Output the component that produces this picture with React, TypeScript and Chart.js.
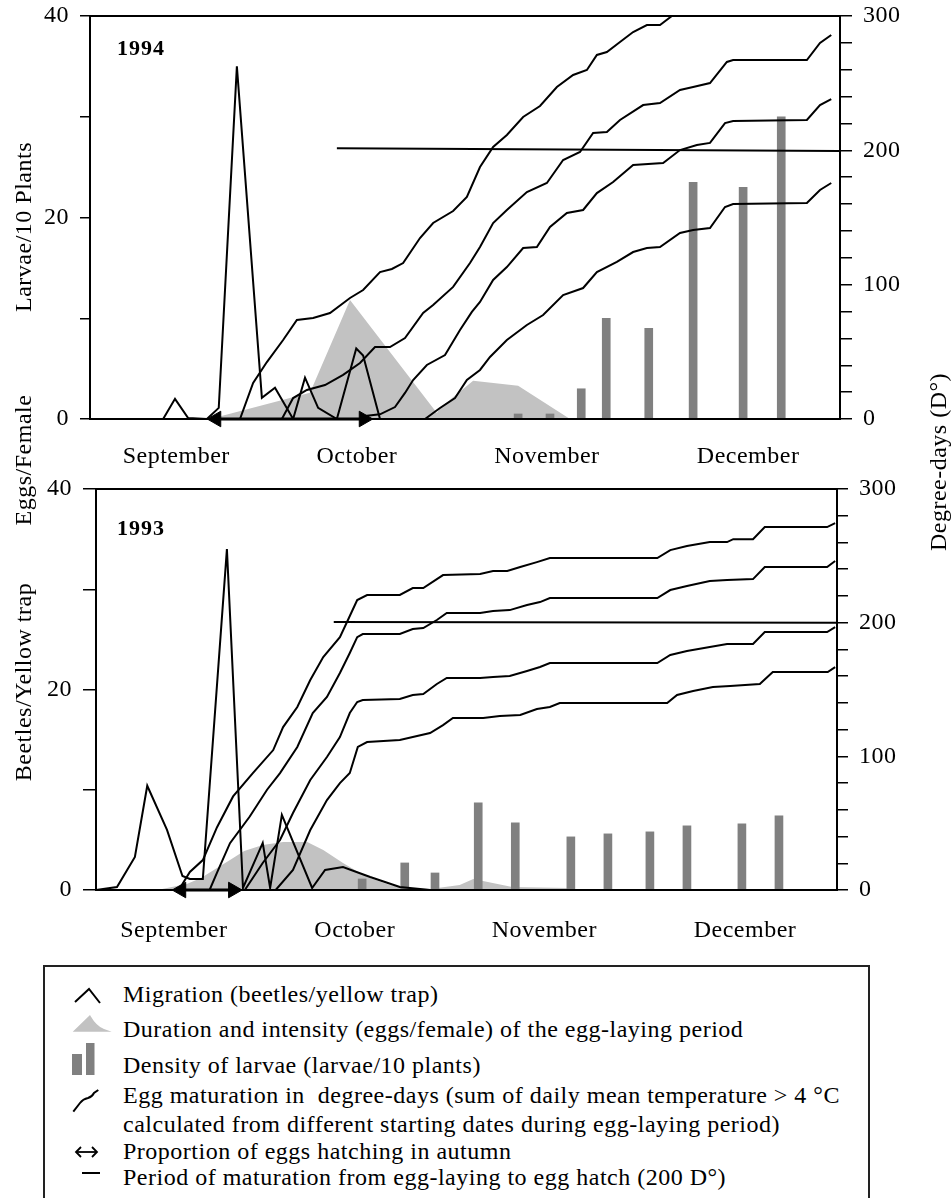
import React, { useEffect, useRef } from 'react';
import { Chart, registerables } from 'chart.js';

Chart.register(...registerables);

type Pt = [number, number];

const SERIF = "'Liberation Serif', 'Tinos', 'DejaVu Serif', 'Noto Serif', serif";

// x values are days counted from 1 September
const MONTHS = ['September', 'October', 'November', 'December'];
const MONTH_DAYS_1994 = [13.8, 42.7, 73.1, 105.3];
const MONTH_DAYS_1993 = [12.6, 41.9, 72.6, 105.1];

// ---------- 1994 (upper panel) ----------
const migration1994: Pt[] = [
  [0, 0], [11.7, 0], [13.6, 2], [15.7, 0.1], [18.7, 0], [20.6, 1.1], [23.5, 35], [27.5, 2.1],
  [29.6, 3.1], [32.5, 0], [34.4, 4.1], [36.5, 1.1], [39.5, 0], [42.6, 7], [43.7, 6.3], [46.4, 0],
];
const eggLaying1994: Pt[] = [
  [19.2, 0], [35.2, 2.6], [41.6, 11.8], [55.5, 0.6], [56.0, 1.1], [61.3, 3.8], [68.5, 3.3], [76.8, 0],
];
const larvaeDays1994 = [68.5, 73.6, 78.6, 82.6, 89.4, 96.5, 104.5, 110.6];
const larvae1994 = [0.5, 0.5, 3, 10, 9, 23.5, 23, 30];
const maturation1994A: Pt[] = [
  [24.0, 0], [26.1, 26.8], [28.3, 42.4], [30.9, 58.8], [33.1, 73.7], [35.7, 75.2], [38.4, 78.9],
  [41.6, 90.1], [43.7, 96.0], [46.4, 109.4], [48.3, 111.7], [50.1, 116.1], [52.8, 134.7], [54.9, 145.9],
  [58.1, 154.8], [60.3, 165.3], [62.4, 187.6], [64.5, 202.5], [66.7, 211.4], [69.3, 224.8], [72.0, 233.0],
  [74.7, 247.1], [77.3, 256.1], [79.5, 259.8], [81.1, 271.0], [82.7, 273.2], [84.8, 280.6], [86.9, 288.1],
  [89.1, 293.3], [91.2, 293.3], [93.1, 300],
];
const maturation1994B: Pt[] = [
  [30.7, 0], [32.5, 15.6], [34.7, 21.6], [37.6, 25.3], [40.5, 32.8], [43.2, 41.7], [45.6, 53.6],
  [48.0, 53.6], [50.4, 60.3], [53.3, 78.9], [54.9, 84.9], [58.1, 98.3], [60.8, 116.1], [62.4, 128.0],
  [64.5, 145.9], [66.7, 155.6], [69.9, 169.0], [73.1, 175.7], [75.7, 192.8], [78.4, 198.8], [80.5, 212.9],
  [82.7, 213.6], [84.8, 222.6], [88.5, 233.7], [91.2, 235.2], [94.4, 244.9], [96.5, 247.1], [99.2, 250.1],
  [101.9, 265.8], [102.9, 267.2], [114.7, 267.2], [116.8, 279.9], [118.6, 285.9],
];
const maturation1994C: Pt[] = [
  [43.6, 2], [46.4, 3.5], [48.8, 8.9], [50.4, 19.4], [51.7, 29.0], [53.9, 40.2], [56.8, 47.6],
  [59.2, 66.3], [61.1, 79.7], [62.4, 87.1], [64.5, 103.5], [66.7, 113.1], [69.3, 127.3], [71.5, 128.0],
  [73.6, 142.9], [76.3, 153.4], [78.9, 155.6], [81.1, 168.2], [83.7, 176.4], [86.9, 189.1], [91.7, 190.6],
  [94.4, 200.2], [97.1, 204.0], [99.2, 205.5], [101.6, 220.3], [102.9, 221.8], [114.7, 222.6],
  [116.8, 233.7], [118.6, 238.2],
];
const maturation1994D: Pt[] = [
  [53.6, 0], [56.0, 8.2], [58.4, 15.6], [60.3, 29.0], [62.4, 36.5], [64.0, 46.2], [66.7, 58.8],
  [69.9, 70.0], [72.5, 77.4], [75.7, 92.3], [78.9, 97.5], [81.1, 109.4], [84.3, 116.9], [86.9, 124.3],
  [89.1, 127.3], [91.2, 128.0], [94.4, 138.5], [96.5, 140.7], [99.2, 142.2], [101.6, 157.8],
  [102.9, 160.0], [114.7, 160.8], [116.8, 170.5], [118.6, 175.7],
];
const hatchLine1994: Pt[] = [[39.5, 201.5], [120, 199.5]];
const autumnHatch1994 = [20.2, 43.8];

// ---------- 1993 (lower panel) ----------
const migration1993: Pt[] = [
  [0, 0], [3.4, 0.3], [6.3, 3.3], [8.3, 10.4], [11.5, 6.0], [14.0, 1.4], [15.2, 1.1], [17.3, 1.1],
  [21.2, 34], [23.8, 0.2], [27.0, 4.7], [28.2, 0.2], [30.1, 7.5], [35.0, 0.2], [37.1, 2.0], [40.0, 2.3],
  [44.4, 1.3], [49.2, 0.3], [54.1, 0],
];
const eggLaying1993: Pt[] = [
  [9.9, 0], [14.7, 0.6], [17.0, 1.2], [19.6, 2.2], [21.7, 3.0], [24.0, 3.9], [27.0, 4.5], [30.3, 4.8],
  [34.2, 4.8], [36.8, 4.0], [40.0, 2.7], [42.2, 1.9], [44.4, 1.2], [47.6, 0.5], [50.0, 0.2], [54.1, 0.1],
  [58.9, 0.5], [61.1, 1.1], [67.4, 0.3], [76.3, 0.2], [76.8, 0],
];
const larvaeDays1993 = [43.1, 50.0, 54.9, 61.9, 67.9, 76.9, 82.9, 89.7, 95.7, 104.6, 110.6];
const larvae1993 = [1.1, 2.7, 1.7, 8.7, 6.7, 5.3, 5.6, 5.8, 6.4, 6.6, 7.4];
const maturation1993A: Pt[] = [
  [13.4, 0], [15.2, 13.5], [17.3, 22.4], [19.6, 47], [22.2, 70], [25.4, 87.5], [28.7, 104.7],
  [30.3, 121.9], [32.6, 136.9], [34.7, 157.1], [36.8, 174.3], [39.5, 189.2], [40.8, 202.0], [42.3, 216.9],
  [43.9, 220.7], [49.2, 220.7], [51.3, 225.9], [53.0, 225.9], [56.2, 235.6], [62.2, 236.4], [64.3, 238.6],
  [66.6, 238.6], [68.7, 241.6], [71.4, 245.3], [73.5, 248.3], [90.9, 248.3], [93.0, 254.3], [95.7, 257.3],
  [99.4, 260.3], [102.2, 260.3], [103.2, 262.5], [106.4, 262.5], [108.3, 271.5], [118.4, 271.5],
  [119.7, 274.5],
];
const maturation1993B: Pt[] = [
  [18.4, 0], [19.6, 13], [21.7, 35], [24.9, 55], [27.7, 75], [29.8, 87.5], [32.6, 107.0], [35.1, 132.4],
  [37.4, 144.4], [39.5, 162.3], [41.1, 177.3], [42.3, 189.2], [43.2, 191.5], [49.2, 191.5], [51.3, 195.2],
  [53.0, 196.0], [55.2, 202.0], [56.8, 207.2], [62.2, 207.2], [64.3, 208.7], [67.0, 209.4], [69.8, 213.2],
  [71.9, 215.4], [73.5, 218.4], [90.9, 218.4], [93.0, 224.4], [95.7, 227.4], [99.4, 231.1], [102.2, 231.9],
  [106.4, 232.6], [108.3, 241.6], [118.4, 241.6], [119.7, 246.1],
];
const maturation1993C: Pt[] = [
  [24.1, 0], [27.0, 20.2], [29.8, 37.4], [31.9, 57.6], [34.7, 82.3], [37.4, 99.5], [39.5, 114.4],
  [41.1, 132.4], [42.3, 140.6], [43.2, 142.1], [49.2, 142.9], [51.3, 145.9], [53.0, 146.6], [55.2, 154.1],
  [56.8, 158.6], [62.2, 158.6], [64.3, 159.3], [67.0, 160.1], [69.8, 163.8], [71.9, 166.8], [73.5, 169.8],
  [90.9, 169.8], [93.0, 175.8], [95.7, 178.8], [99.4, 181.8], [102.2, 184.0], [106.4, 184.0],
  [108.3, 193.0], [118.4, 193.0], [119.7, 196.7],
];
const maturation1993D: Pt[] = [
  [29.1, 0], [31.9, 15.0], [34.7, 44.9], [37.4, 67.3], [39.5, 80.0], [41.1, 87.5], [42.4, 107.0],
  [43.9, 110.7], [49.2, 112.2], [51.3, 114.4], [54.1, 117.4], [56.2, 123.4], [57.8, 128.7], [62.7, 128.7],
  [65.4, 130.2], [68.7, 130.9], [71.4, 135.4], [73.5, 136.9], [75.1, 139.9], [92.5, 139.9], [94.1, 145.9],
  [96.7, 148.9], [99.9, 151.8], [102.7, 152.6], [107.5, 154.1], [109.6, 163.1], [118.5, 163.1],
  [119.7, 166.8],
];
const hatchLine1993: Pt[] = [[38.5, 200.5], [120, 200]];
const autumnHatch1993 = [13.8, 22.2];

const LEGEND_ROWS = [
  'Migration (beetles/yellow trap)',
  'Duration and intensity (eggs/female) of the egg-laying period',
  'Density of larvae (larvae/10 plants)',
  'Egg maturation in \u00a0degree-days (sum of daily mean temperature > 4 \u00b0C',
  'calculated from different starting dates during egg-laying period)',
  'Proportion of eggs hatching in autumn',
  'Period of maturation from egg-laying to egg hatch (200 D\u00b0)',
];

interface PanelSpec {
  monthDays: number[];
  migration: Pt[];
  eggLaying: Pt[];
  larvaeDays: number[];
  larvae: number[];
  maturation: Pt[][];
  hatchLine: Pt[];
  arrow: number[];
  left: number;
  right: number;
  top: number;
  bottom: number;
  leftTick: number;
  rightTick: number;
  xPad: number;
}

const toXY = (pts: Pt[]) => pts.map(([x, y]) => ({ x, y }));

const spacingPlugin = {
  id: 'letterSpacing',
  beforeDraw(chart: any) {
    chart.ctx.letterSpacing = '0.5px';
  },
};

const noPad = (s: any) => {
  s.paddingTop = 0;
  s.paddingBottom = 0;
  s.paddingLeft = 0;
  s.paddingRight = 0;
};

function makeConfig(p: PanelSpec): any {
  const font = { family: SERIF, size: 24 };
  const lineDs = (pts: Pt[], axis: string) => ({
    type: 'line',
    data: toXY(pts),
    yAxisID: axis,
    borderColor: '#000',
    borderWidth: 2,
    pointRadius: 0,
    fill: false,
    tension: 0,
    order: 1,
  });
  const datasets: any[] = [
    {
      type: 'line',
      data: toXY(p.eggLaying),
      yAxisID: 'y',
      borderColor: 'rgba(0,0,0,0)',
      borderWidth: 0,
      backgroundColor: '#c2c2c2',
      fill: 'origin',
      pointRadius: 0,
      tension: 0,
      order: 10,
    },
    {
      type: 'bar',
      data: p.larvaeDays.map((x, i) => ({ x, y: p.larvae[i] })),
      yAxisID: 'y',
      backgroundColor: '#808080',
      barThickness: 8,
      order: 5,
    },
    lineDs(p.migration, 'y'),
    ...p.maturation.map((m) => lineDs(m, 'y2')),
    lineDs(p.hatchLine, 'y2'),
    {
      type: 'line',
      data: p.arrow.map((x) => ({ x, y: 0 })),
      yAxisID: 'y',
      borderColor: '#000',
      borderWidth: 3,
      pointStyle: 'triangle',
      pointRadius: 9,
      pointRotation: [-90, 90],
      pointBackgroundColor: '#000',
      pointBorderColor: '#000',
      pointBorderWidth: 1,
      clip: false,
      order: 0,
    },
  ];
  const W = 951;
  return {
    type: 'line',
    data: { datasets },
    plugins: [spacingPlugin],
    options: {
      animation: false,
      responsive: false,
      devicePixelRatio: 1,
      events: [],
      layout: { padding: 0 },
      plugins: { legend: { display: false }, tooltip: { enabled: false }, title: { display: false } },
      scales: {
        x: {
          type: 'linear',
          position: 'bottom',
          min: 0,
          max: 120,
          offset: false,
          grid: { display: false },
          border: { display: true, color: '#000', width: 2, z: 1 },
          afterBuildTicks: (s: any) => {
            s.ticks = p.monthDays.map((v) => ({ value: v }));
          },
          ticks: {
            callback: (_v: any, i: number) => MONTHS[i],
            font,
            color: '#000',
            padding: p.xPad,
            maxRotation: 0,
            autoSkip: false,
          },
          afterFit: (s: any) => {
            s.height = p.bottom;
            noPad(s);
          },
        },
        x2: {
          type: 'linear',
          position: 'top',
          grid: { display: false },
          ticks: { display: false },
          border: { display: true, color: '#000', width: 2, z: 1 },
          afterFit: (s: any) => {
            s.height = p.top;
            noPad(s);
          },
        },
        y: {
          type: 'linear',
          position: 'left',
          min: 0,
          max: 40,
          ticks: {
            stepSize: 10,
            autoSkip: false,
            callback: (v: number) => (v % 20 === 0 ? String(v) : ''),
            font,
            color: '#000',
            padding: 11,
          },
          grid: { drawOnChartArea: false, drawTicks: true, tickLength: p.leftTick, color: '#000', lineWidth: 1.5 },
          border: { display: true, color: '#000', width: 2, z: 1 },
          afterFit: (s: any) => {
            s.width = p.left;
            noPad(s);
          },
        },
        y2: {
          type: 'linear',
          position: 'right',
          min: 0,
          max: 300,
          ticks: {
            stepSize: 20,
            autoSkip: false,
            callback: (v: number) => (v % 100 === 0 ? String(v) : ''),
            font,
            color: '#000',
            padding: 11,
          },
          grid: { drawOnChartArea: false, drawTicks: true, tickLength: p.rightTick, color: '#000', lineWidth: 1.5 },
          border: { display: true, color: '#000', width: 2, z: 1 },
          afterFit: (s: any) => {
            s.width = W - p.right;
            noPad(s);
          },
        },
      },
    },
  };
}

const PANEL_1994: PanelSpec = {
  monthDays: MONTH_DAYS_1994,
  migration: migration1994,
  eggLaying: eggLaying1994,
  larvaeDays: larvaeDays1994,
  larvae: larvae1994,
  maturation: [maturation1994A, maturation1994B, maturation1994C, maturation1994D],
  hatchLine: hatchLine1994,
  arrow: autumnHatch1994,
  left: 90,
  right: 840,
  top: 16,
  bottom: 51,
  leftTick: 10,
  rightTick: 12,
  xPad: 15,
};

const PANEL_1993: PanelSpec = {
  monthDays: MONTH_DAYS_1993,
  migration: migration1993,
  eggLaying: eggLaying1993,
  larvaeDays: larvaeDays1993,
  larvae: larvae1993,
  maturation: [maturation1993A, maturation1993B, maturation1993C, maturation1993D],
  hatchLine: hatchLine1993,
  arrow: autumnHatch1993,
  left: 96,
  right: 837,
  top: 19,
  bottom: 60,
  leftTick: 13,
  rightTick: 11,
  xPad: 18,
};

function Panel({ spec, top, height }: { spec: PanelSpec; top: number; height: number }) {
  const ref = useRef<HTMLCanvasElement>(null);
  useEffect(() => {
    const chart = new Chart(ref.current as HTMLCanvasElement, makeConfig(spec));
    return () => chart.destroy();
  }, [spec]);
  return (
    <canvas
      ref={ref}
      width={951}
      height={height}
      style={{ position: 'absolute', left: 0, top, width: 951, height, display: 'block' }}
    />
  );
}

function Vert({ cx, cy, text }: { cx: number; cy: number; text: string }) {
  return (
    <div
      style={{
        position: 'absolute',
        left: cx,
        top: cy,
        transform: 'translate(-50%, -50%) rotate(-90deg)',
        whiteSpace: 'nowrap',
        fontSize: 24,
        lineHeight: '24px',
        letterSpacing: '0.5px',
      }}
    >
      {text}
    </div>
  );
}

const LEGEND_TOPS = [981.6, 1017, 1053, 1083, 1112, 1139, 1165];

export default function App() {
  return (
    <div
      style={{
        position: 'absolute',
        left: 0,
        top: 0,
        width: 951,
        height: 1198,
        overflow: 'hidden',
        background: '#fff',
        fontFamily: SERIF,
        color: '#000',
      }}
    >
      <Panel spec={PANEL_1994} top={0} height={470} />
      <Panel spec={PANEL_1993} top={470} height={480} />

      <div style={{ position: 'absolute', left: 117, top: 36.6, fontSize: 22, lineHeight: '22px', fontWeight: 'bold', letterSpacing: '1px' }}>
        1994
      </div>
      <div style={{ position: 'absolute', left: 117, top: 516.6, fontSize: 22, lineHeight: '22px', fontWeight: 'bold', letterSpacing: '1px' }}>
        1993
      </div>

      <Vert cx={23} cy={227} text="Larvae/10 Plants" />
      <Vert cx={23} cy={460} text="Eggs/Female" />
      <Vert cx={23} cy={682} text="Beetles/Yellow trap" />
      <Vert cx={938} cy={462} text="Degree-days (D°)" />

      <div
        style={{
          position: 'absolute',
          left: 43,
          top: 965,
          width: 827,
          height: 240,
          border: '2px solid #222',
          boxSizing: 'border-box',
        }}
      />
      {LEGEND_ROWS.map((t, i) => (
        <div
          key={i}
          style={{
            position: 'absolute',
            left: 123,
            top: LEGEND_TOPS[i],
            fontSize: 24,
            lineHeight: '24px',
            whiteSpace: 'pre',
            letterSpacing: '0.5px',
          }}
        >
          {t}
        </div>
      ))}
      <svg
        width={951}
        height={1198}
        style={{ position: 'absolute', left: 0, top: 0, pointerEvents: 'none' }}
      >
        <polyline points="75,1002 89,989 100,1003" fill="none" stroke="#000" strokeWidth={2} />
        <path d="M72.7,1031.7 L90,1015 Q96,1026 104,1029 L111.7,1031.7 Z" fill="#c2c2c2" />
        <rect x={72} y={1054} width={10} height={21} fill="#808080" />
        <rect x={86} y={1043} width={8.5} height={32} fill="#808080" />
        <path d="M73.3,1111.7 L80,1103 Q83,1099 88,1098 Q92,1097 94,1093 L98.3,1090" fill="none" stroke="#000" strokeWidth={2} />
        <line x1={76} y1={1152} x2={97} y2={1152} stroke="#000" strokeWidth={1.8} />
        <polyline points="81,1147 76,1152 81,1157" fill="none" stroke="#000" strokeWidth={1.8} />
        <polyline points="92,1147 97,1152 92,1157" fill="none" stroke="#000" strokeWidth={1.8} />
        <line x1={82} y1={1173} x2={100} y2={1173} stroke="#000" strokeWidth={2} />
      </svg>
    </div>
  );
}
